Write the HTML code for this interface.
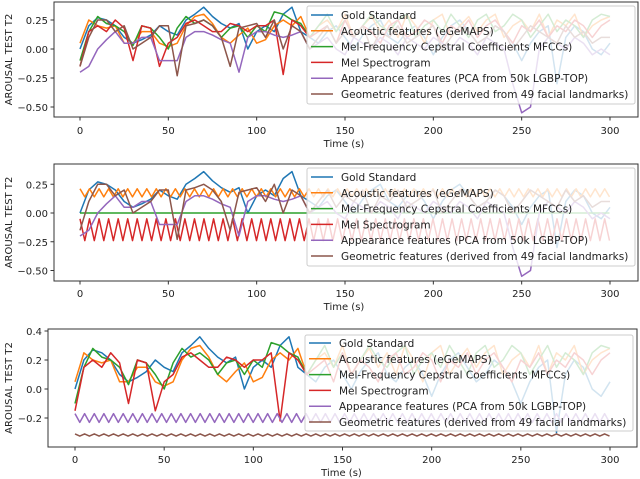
<!DOCTYPE html>
<html><head><meta charset="utf-8">
<style>
html,body{margin:0;padding:0;background:#fff;}
svg{display:block;font-family:"DejaVu Sans","Liberation Sans",sans-serif;}
</style></head>
<body>
<svg id="fig" width="640" height="479" viewBox="0 0 640 479" xmlns="http://www.w3.org/2000/svg"></svg>
<script>
// time samples (seconds) for irregular series, every 5 s
const times = [0,5,10,15,20,25,30,35,40,45,50,55,60,65,70,75,80,85,90,95,100,105,110,115,120,125,130,135,140,145,150,155,160,165,170,175,180,185,190,195,200,205,210,215,220,225,230,235,240,245,250,255,260,265,270,275,280,285,290,295,300];
const goldStandard = [0,0.2,0.27,0.25,0.2,0.1,0.05,0.08,0.12,0.2,0.15,0.12,0.25,0.3,0.36,0.28,0.22,0.18,0.22,0.0,0.15,0.2,0.15,0.3,0.36,0.15,0.1,0.05,0.15,0.2,0.1,0.0,0.12,0.2,0.25,0.1,0.05,0.15,0.2,0.1,-0.05,0.1,0.2,0.25,0.15,0.05,0.1,0.2,0.15,0.05,-0.1,0.05,0.15,0.2,-0.3,0.1,0.2,0.15,0.0,-0.05,0.05];
const acoustic = [0.05,0.25,0.2,0.18,0.2,0.05,0.05,0.15,0.15,0.05,0.02,0.05,0.2,0.28,0.3,0.22,0.1,0.05,0.12,0.18,0.05,0.08,0.2,0.25,0.2,0.28,0.1,0.2,0.25,0.15,0.3,0.1,0.2,0.28,0.15,0.25,0.1,0.3,0.2,0.05,0.25,0.3,0.1,0.2,0.28,0.15,0.25,0.3,0.1,0.2,0.25,0.15,0.3,0.1,0.25,0.2,0.3,0.1,0.2,0.25,0.28];
const mfcc = [-0.1,0.15,0.28,0.22,0.2,0.15,0.03,0.2,0.18,0.1,0.0,0.18,0.28,0.22,0.25,0.2,0.1,0.18,0.2,0.1,0.2,0.15,0.32,0.3,0.25,0.22,0.1,0.2,0.3,0.15,0.25,0.1,0.2,0.3,0.2,0.15,0.25,0.3,0.1,0.2,0.25,0.15,0.3,0.2,0.1,0.25,0.3,0.15,0.2,0.3,0.25,0.1,0.2,0.3,0.15,0.25,0.2,0.1,0.25,0.3,0.28];
const melSpec = [-0.15,0.15,0.2,0.15,0.25,0.18,-0.1,0.2,0.18,-0.15,0.05,0.1,0.22,0.25,0.2,0.15,0.15,0.22,0.2,0.15,0.2,0.2,0.25,-0.22,0.25,0.2,0.1,0.15,0.2,0.05,0.25,0.1,0.2,0.15,0.05,0.2,0.25,0.1,0.15,0.25,0.2,0.05,0.2,0.15,0.25,0.1,0.2,0.25,0.15,0.05,0.2,0.15,0.25,0.1,0.2,0.15,0.25,0.2,0.1,0.2,0.25];
const appearance = [-0.2,-0.15,0.0,0.08,0.15,0.05,0.05,0.1,0.1,-0.1,-0.1,-0.1,0.1,0.15,0.15,0.12,0.08,0.05,-0.2,0.1,0.15,0.15,0.12,0.1,0.12,0.15,0.0,0.05,0.1,0.0,-0.05,0.1,0.05,0.0,0.1,0.05,-0.05,0.1,0.05,0.0,0.1,0.05,0.0,0.1,0.05,-0.05,0.1,0.05,0.0,-0.3,-0.55,-0.5,0.0,0.1,0.05,0.0,0.1,0.05,-0.05,0.0,-0.05];
const geometric = [-0.15,0.1,0.25,0.25,0.15,0.2,0.0,0.05,0.1,0.2,0.2,-0.23,0.2,0.22,0.25,0.2,0.1,-0.15,0.18,0.2,0.22,0.1,0.25,0.0,0.2,0.15,0.0,0.1,0.2,0.05,0.15,0.1,0.2,0.0,0.15,0.1,0.2,0.05,0.1,0.15,0.2,0.0,0.1,0.2,0.15,0.05,0.1,0.2,0.15,0.0,0.1,0.2,0.15,0.1,0.05,0.2,0.1,0.15,0.05,0.1,0.1];
const periodicTimes = [0,2.7,5.4,8.1,10.8,13.5,16.2,18.9,21.6,24.3,27,29.7,32.4,35.1,37.8,40.5,43.2,45.9,48.6,51.3,54,56.7,59.4,62.1,64.8,67.5,70.2,72.9,75.6,78.3,81,83.7,86.4,89.1,91.8,94.5,97.2,99.9,102.6,105.3,108,110.7,113.4,116.1,118.8,121.5,124.2,126.9,129.6,132.3,135,137.7,140.4,143.1,145.8,148.5,151.2,153.9,156.6,159.3,162,164.7,167.4,170.1,172.8,175.5,178.2,180.9,183.6,186.3,189,191.7,194.4,197.1,199.8,202.5,205.2,207.9,210.6,213.3,216,218.7,221.4,224.1,226.8,229.5,232.2,234.9,237.6,240.3,243,245.7,248.4,251.1,253.8,256.5,259.2,261.9,264.6,267.3,270,272.7,275.4,278.1,280.8,283.5,286.2,288.9,291.6,294.3,297,299.7];
const melSpec2 = periodicTimes.map((t,i)=> [-0.05,-0.24][i%2]);
const acoustic2 = periodicTimes.map((t,i)=> [0.21,0.14][i%2]);
const mfcc2 = periodicTimes.map(()=> 0.0);
const appearance3 = periodicTimes.map((t,i)=> [-0.17,-0.23][i%2]);
const geometric3 = periodicTimes.map((t,i)=> [-0.31,-0.325][i%2]);
const legendLabels = ["Gold Standard","Acoustic features (eGeMAPS)","Mel-Frequency Cepstral Coefficients MFCCs)","Mel Spectrogram","Appearance features (PCA from 50k LGBP-TOP)","Geometric features (derived from 49 facial landmarks)"];
const colors = ["#1f77b4","#ff7f0e","#2ca02c","#d62728","#9467bd","#8c564b"];
const xTicks = [0,50,100,150,200,250,300];
const yTicks12 = [0.25,0.0,-0.25,-0.5];
const yTickLabels12 = ["0.25","0.00","\u22120.25","\u22120.50"];
const yTicks3 = [0.4,0.2,0.0,-0.2];
const yTickLabels3 = ["0.4","0.2","0.0","\u22120.2"];

const NS="http://www.w3.org/2000/svg";
const svg=document.getElementById('fig');
function mk(tag,attrs,parent){const e=document.createElementNS(NS,tag);for(const k in attrs)e.setAttribute(k,attrs[k]);(parent||svg).appendChild(e);return e;}

const panels=[
 {name:'top',left:54,right:638,top:2,bottom:117,x0:80,x300:610,y0:49,ys:116,yt:yTicks12,yl:yTickLabels12,xl:130,tl:143,
  leg:{x:307,y:6,w:328,h:98,r0:15},
  series:[[times,goldStandard],[times,acoustic],[times,mfcc],[times,melSpec],[times,appearance],[times,geometric]]},
 {name:'middle',left:54,right:638,top:164,bottom:281,x0:80,x300:610,y0:213,ys:115,yt:yTicks12,yl:yTickLabels12,xl:293,tl:306,
  leg:{x:307,y:168,w:328,h:98,r0:177},
  series:[[times,goldStandard],[periodicTimes,acoustic2],[periodicTimes,mfcc2],[periodicTimes,melSpec2],[times,appearance],[times,geometric]]},
 {name:'bottom',left:48,right:637,top:329,bottom:447,x0:75,x300:610,y0:389,ys:145,yt:yTicks3,yl:yTickLabels3,xl:459,tl:472,
  leg:{x:305,y:335,w:328,h:96,r0:343},
  series:[[times,goldStandard],[times,acoustic],[times,mfcc],[times,melSpec],[periodicTimes,appearance3],[periodicTimes,geometric3]]}
];

panels.forEach(p=>{
  const g=mk('g',{});
  
  
  const xs=t=>p.x0+(p.x300-p.x0)*t/300;
  const ys=v=>p.y0-v*p.ys;
  const clipId='clip-'+p.name;
  const cp=mk('clipPath',{id:clipId},g);
  mk('rect',{x:p.left,y:p.top,width:p.right-p.left,height:p.bottom-p.top},cp);
  const lines=mk('g',{'clip-path':'url(#'+clipId+')'},g);
  p.series.forEach((s,i)=>{
    const d=s[0].map((t,j)=>(j?'L':'M')+xs(t).toFixed(1)+','+ys(s[1][j]).toFixed(1)).join('');
    const path=mk('path',{d:d,fill:'none',stroke:colors[i],'stroke-width':1.5,'stroke-linejoin':'round'},lines);
    
    
  });
  const frame=mk('rect',{x:p.left,y:p.top,width:p.right-p.left,height:p.bottom-p.top,fill:'none',stroke:'#333','stroke-width':1},g);
  
  
  xTicks.forEach(t=>{
    mk('line',{x1:xs(t),x2:xs(t),y1:p.bottom,y2:p.bottom+3.5,stroke:'#333'},g);
    const tx=mk('text',{x:xs(t),y:p.xl+4,'text-anchor':'middle','font-size':10,fill:'#222'},g);
    tx.textContent=t;
    
    
  });
  p.yt.forEach((v,i)=>{
    mk('line',{x1:p.left-3.5,x2:p.left,y1:ys(v),y2:ys(v),stroke:'#333'},g);
    const ty=mk('text',{x:p.left-6,y:ys(v)+4,'text-anchor':'end','font-size':10,fill:'#222'},g);
    ty.textContent=p.yl[i];
    
    
  });
  const xt=mk('text',{x:(p.x0+p.x300)/2-1,y:p.tl+4,'text-anchor':'middle','font-size':10,fill:'#222'},g);
  xt.textContent='Time (s)';
  
  
  const cy=(p.top+p.bottom)/2;
  const yt=mk('text',{x:12,y:cy,'text-anchor':'middle','font-size':10,fill:'#222',transform:'rotate(-90 12 '+cy+')'},g);
  yt.textContent='AROUSAL TEST T2';
  
  
  const L=p.leg;
  const lg=mk('g',{},g);
  
  
  mk('rect',{x:L.x,y:L.y,width:L.w,height:L.h,rx:2,fill:'#fff','fill-opacity':0.8,stroke:'#ccc','stroke-width':1},lg);
  legendLabels.forEach((lab,i)=>{
    const y=L.r0+i*15.8;
    mk('line',{x1:L.x+4,x2:L.x+26,y1:y,y2:y,stroke:colors[i],'stroke-width':1.5},lg);
    const t=mk('text',{x:L.x+34,y:y+4,'font-size':10.5,fill:'#222'},lg);
    t.textContent=lab;
    
    
  });
});
</script>
</body></html>
